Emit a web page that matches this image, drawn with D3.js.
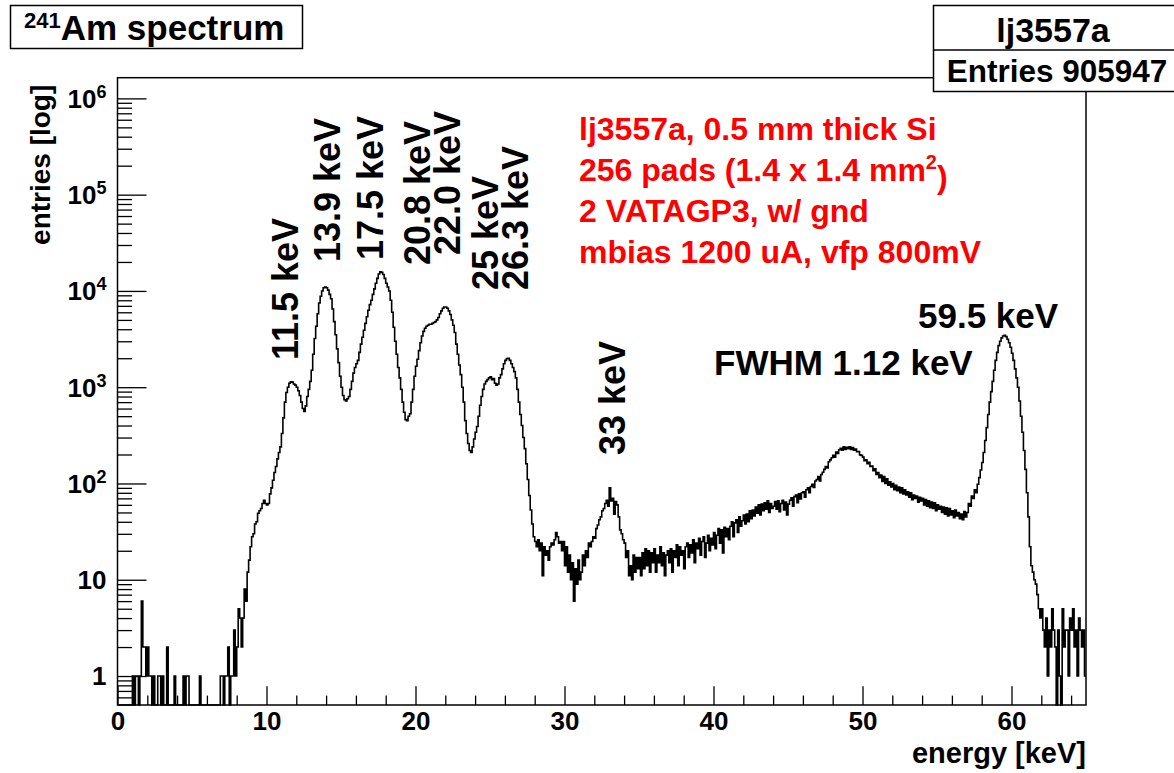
<!DOCTYPE html>
<html>
<head>
<meta charset="utf-8">
<script src="https://cdn.jsdelivr.net/npm/d3@7"></script>
<style>
body { margin: 0; background: #fff; }
text { font-family: "Liberation Sans", Arial, Helvetica, sans-serif; font-weight: bold; }
</style>
</head>
<body>
<div class="spectrum"></div>
<script>
// histogram binning (keV) and axis ranges
var binWidth = 0.1;
var xDomain = [0, 65];
var yDomain = [0.5, 1.64e6];

// counts per 0.1 keV bin, one array per 10 keV
var counts00 = [
    0,0,0,0,0,0,0,0,0,0,
    1,0,1,1,0,1,6,2,2,1,
    2,1,1,0,1,0,0,1,1,0,
    1,0,0,2,0,0,0,0,1,0,
    0,0,0,0,1,0,1,1,0,0,
    0,0,0,0,0,1,0,0,0,0,
    0,0,0,0,0,0,0,0,0,1,
    1,0,1,1,2,0,1,1,3,1,
    2,5,4,2,4,8,6,12,16,22,
    28,30,38,40,49,52,55,62,67,62
];
var counts10 = [
    60,62,78,90,108,130,150,180,210,240,
    330,480,700,880,1000,1100,1140,1130,1080,1050,
    1000,920,820,700,600,560,640,800,950,1150,
    1500,2200,3200,4300,5800,7500,8800,10000,10800,11000,
    10800,10200,9200,8300,6500,4800,3500,2500,1800,1300,
    1000,820,740,720,760,800,950,1150,1400,1600,
    1750,1900,2300,2800,3300,3900,4600,5400,6300,7200,
    8000,9200,10500,12000,13500,15000,15800,15600,14800,13500,
    12000,11000,10000,8000,6000,4200,3000,2200,1600,1250,
    950,700,550,460,450,500,530,700,950,1300
];
var counts20 = [
    1650,1950,2400,2900,3400,3800,4100,4300,4400,4500,
    4500,4600,4700,4800,5000,5300,5800,6200,6600,6800,
    6800,6600,6200,5700,5000,4400,3700,2800,2200,1700,
    1350,1000,700,450,330,260,220,210,240,290,
    340,390,500,650,800,950,1080,1150,1200,1250,
    1280,1200,1230,1100,1050,1080,1250,1350,1550,1750,
    1900,1980,2000,1900,1750,1600,1450,1250,950,700,
    520,400,300,230,160,110,75,53,38,28,
    25,22,26,20,24,11,22,18,20,16,
    22,24,23,26,31,28,24,25,20,25
];
var counts30 = [
    14,22,12,18,10,15,6,13,9,16,
    10,12,18,14,20,17,24,22,25,28,
    27,34,37,42,45,52,55,62,67,58,
    90,66,70,48,65,60,45,33,30,26,
    24,17,20,11,14,10,18,12,17,13,
    17,11,19,13,21,14,20,12,19,15,
    21,12,18,15,22,14,19,11,18,20,
    15,21,12,20,17,23,14,22,18,20,
    13,22,24,17,23,19,26,15,24,21,
    27,18,25,28,17,24,29,20,27,23
];
var counts40 = [
    31,21,29,34,24,33,19,35,28,34,
    26,36,40,28,39,42,31,45,36,41,
    47,38,48,40,52,43,53,46,57,49,
    60,47,61,52,63,54,66,50,62,55,
    58,65,54,66,51,62,67,53,64,47,
    61,67,71,58,73,76,63,78,69,80,
    82,72,86,90,80,93,98,91,106,110,
    118,106,124,131,140,150,145,168,176,185,
    196,188,212,205,224,232,221,240,226,238,
    230,240,225,236,222,228,214,215,198,196
];
var counts50 = [
    188,172,176,160,166,150,152,136,142,124,
    130,115,122,105,118,100,112,96,104,92,
    100,86,96,84,92,80,90,78,86,76,
    82,72,80,68,76,70,74,64,72,66,
    70,60,68,58,66,56,64,55,63,52,
    60,54,58,50,57,48,56,46,55,47,
    52,44,53,46,50,43,48,42,51,45,
    50,62,58,74,70,86,80,98,115,138,
    165,210,280,380,520,700,900,1150,1500,1900,
    2300,2700,3000,3250,3400,3450,3350,3150,2900,2600
];
var counts60 = [
    2250,1900,1550,1250,1000,720,500,340,220,140,
    80,45,22,14,12,10,9,7,5,4,
    5,3,2,4,1,3,2,5,3,2,
    0,3,1,0,5,2,3,3,1,4,
    3,5,2,3,1,4,3,2,3,1
];
var counts = counts00.concat(counts10, counts20, counts30, counts40, counts50, counts60);

// axis ticks
var xMajor = [0, 10, 20, 30, 40, 50, 60];
var xMinor = [2, 4, 6, 8, 12, 14, 16, 18, 22, 24, 26, 28, 32, 34, 36, 38, 42, 44, 46, 48, 52, 54, 56, 58, 62, 64];
var yMajor = [1, 10, 100, 1e3, 1e4, 1e5, 1e6];
var yExponent = [null, null, 2, 3, 4, 5, 6];

// peak annotations (keV labels, vertical)
var peakLabels = ["11.5 keV", "13.9 keV", "17.5 keV", "20.8 keV", "22.0 keV", "25 keV", "26.3 keV", "33 keV"];
var peakLabelPos = [[298, 360], [340, 262], [383, 260], [430, 265], [460, 255], [498, 290], [528, 290], [625, 455]];

var infoLines = ["lj3557a, 0.5 mm thick Si", "256 pads (1.4 x 1.4 mm", "2 VATAGP3, w/ gnd", "mbias 1200 uA, vfp 800mV"];

// set the dimensions and margins of the graph
var W = 1174, H = 773;
var margin = {top: 77.7, right: W - 1086, bottom: H - 705, left: 117.5},
    width = W - margin.left - margin.right,
    height = H - margin.top - margin.bottom;

var x = d3.scaleLinear().domain(xDomain).range([0, width]);
var y = d3.scaleLog().domain(yDomain).range([height, 0]);

var root = d3.select(".spectrum").append("svg")
    .attr("width", W)
    .attr("height", H);

root.append("rect").attr("width", W).attr("height", H).attr("fill", "#fff");

var svg = root.append("g")
    .attr("transform", "translate(" + margin.left + "," + margin.top + ")");

// histogram as a step line
var bins = counts.map(function(c, i){ return {lo: i * binWidth, n: c}; });
bins.push({lo: xDomain[1], n: counts[counts.length - 1]});

var valueline = d3.line()
    .curve(d3.curveStepAfter)
    .x(function(d){ return x(d.lo); })
    .y(function(d){ return y(Math.max(d.n, yDomain[0])); });

svg.append("path")
    .attr("d", valueline(bins))
    .attr("fill", "none")
    .attr("stroke", "#000")
    .attr("stroke-width", 1.6);

// X axis, ticks pointing in
var xAxis = d3.axisBottom(x)
    .tickValues(xMajor)
    .tickSize(-18.8)
    .tickSizeOuter(0)
    .tickPadding(7)
    .tickFormat(d3.format("d"));

var gx = svg.append("g")
    .attr("transform", "translate(0," + height + ")")
    .call(xAxis);

svg.append("g")
    .attr("transform", "translate(0," + height + ")")
    .call(d3.axisBottom(x).tickValues(xMinor).tickSize(-9.4).tickSizeOuter(0).tickFormat(""));

// Y axis
svg.append("g")
    .call(d3.axisLeft(y).tickValues(yMajor).tickSize(-29).tickSizeOuter(0).tickFormat(""));

var yMinor = y.ticks().filter(function(v){
    return yMajor.indexOf(v) < 0 && v > yDomain[0];
});
svg.append("g")
    .call(d3.axisLeft(y).tickValues(yMinor).tickSize(-14.5).tickSizeOuter(0).tickFormat(""));

svg.selectAll(".domain").remove();
svg.selectAll(".tick line").attr("stroke", "#000").attr("stroke-width", 1.3);
gx.selectAll("text")
    .attr("fill", "#000")
    .style("font-size", "26px")
    .style("font-family", "'Liberation Sans', Arial, sans-serif")
    .style("font-weight", "bold");

var ylab = svg.append("g").selectAll("text")
    .data(yMajor)
    .enter().append("text")
    .attr("x", -11)
    .attr("y", function(d){ return y(d); })
    .attr("dy", "0.36em")
    .attr("text-anchor", "end")
    .style("font-size", "26px");

ylab.each(function(d, i){
    var t = d3.select(this);
    if (yExponent[i] === null) {
        t.text(d3.format("d")(d));
    } else {
        t.append("tspan").text("10");
        t.append("tspan").attr("dy", "-0.55em").style("font-size", "18px").text(yExponent[i]);
    }
});

// frame
svg.append("rect")
    .attr("width", width)
    .attr("height", height)
    .attr("fill", "none")
    .attr("stroke", "#000")
    .attr("stroke-width", 1.5);

// axis titles
svg.append("text")
    .text("energy [keV]")
    .attr("x", width)
    .attr("y", height + 58)
    .attr("text-anchor", "end")
    .style("font-size", "29px");

svg.append("text")
    .text("entries [log]")
    .attr("text-anchor", "end")
    .attr("transform", "translate(" + (-68) + ",7) rotate(-90)")
    .style("font-size", "28px");

// peak labels
root.selectAll(".peak")
    .data(peakLabels)
    .enter().append("text")
    .attr("class", "peak")
    .attr("transform", function(d, i){
        return "translate(" + peakLabelPos[i][0] + "," + peakLabelPos[i][1] + ") rotate(-90)";
    })
    .style("font-size", "36px")
    .text(function(d){ return d; });

root.append("text").attr("x", 918).attr("y", 328).style("font-size", "35px").text("59.5 keV");
root.append("text").attr("x", 714).attr("y", 375).style("font-size", "35px").text("FWHM 1.12 keV");

// red info text
var info = root.append("g").attr("fill", "#ff0000");
info.selectAll("text")
    .data(infoLines)
    .enter().append("text")
    .attr("x", 579)
    .attr("y", function(d, i){ return 140 + i * 41; })
    .style("font-size", "32px")
    .each(function(d, i){
        var t = d3.select(this);
        t.append("tspan").text(d);
        if (i === 1) {
            t.append("tspan").attr("dy", "-0.6em").style("font-size", "20px").text("2");
            t.append("tspan").attr("dy", "0.6em").text(")");
        }
    });

// title box
root.append("rect")
    .attr("x", 10.5).attr("y", 5.5).attr("width", 292).attr("height", 43)
    .attr("fill", "#fff").attr("stroke", "#000").attr("stroke-width", 1.5);
var title = root.append("text").attr("x", 24).attr("y", 40);
title.append("tspan").style("font-size", "22px").attr("dy", -12).text("241");
title.append("tspan").style("font-size", "35px").attr("dy", 12).text("Am spectrum");

// stats box
root.append("rect")
    .attr("x", 933.5).attr("y", 5.5).attr("width", 250).attr("height", 86)
    .attr("fill", "#fff").attr("stroke", "#000").attr("stroke-width", 1.5);
root.append("line")
    .attr("x1", 933.5).attr("x2", W).attr("y1", 50).attr("y2", 50)
    .attr("stroke", "#000").attr("stroke-width", 1.3);
root.append("text").attr("x", 1053).attr("y", 42).attr("text-anchor", "middle")
    .style("font-size", "34px").text("lj3557a");
root.append("text").attr("x", 1057).attr("y", 82).attr("text-anchor", "middle")
    .style("font-size", "31.5px").text("Entries 905947");
</script>
</body>
</html>
